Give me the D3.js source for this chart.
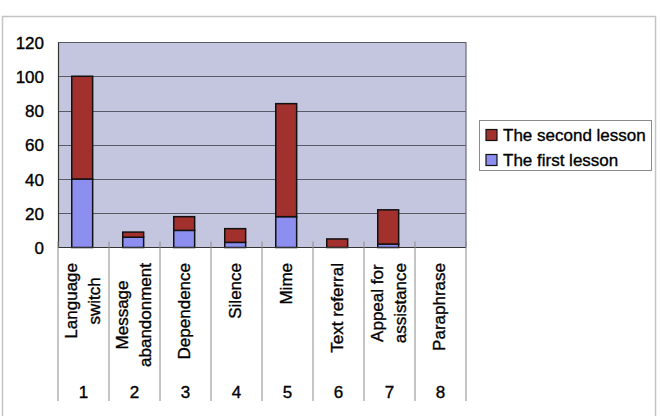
<!DOCTYPE html>
<html><head><meta charset="utf-8">
<script src="https://cdn.jsdelivr.net/npm/d3@7"></script>
<style>
html,body{margin:0;padding:0;background:#fff;}
svg{display:block;font-family:"Liberation Sans",Arial,sans-serif;}
.t{fill:#000;stroke:#000;stroke-width:0.35px;}
</style></head>
<body>
<svg id="chart" width="660" height="416"></svg>
<script>
const categories = ["1","2","3","4","5","6","7","8"];
const categoryNames = [["Language","switch"],["Message","abandonment"],["Dependence"],["Silence"],["Mime"],["Text referral"],["Appeal for","assistance"],["Paraphrase"]];
const firstLesson  = [40, 6, 10, 3, 18, 0, 2, 0];
const secondLesson = [60, 3, 8, 8, 66, 5, 20, 0];
const seriesNames = ["The second lesson","The first lesson"];
const yTicks = [0,20,40,60,80,100,120];

const svg = d3.select("#chart");
const L = 58, R = 466, T = 42, B = 247.5;
const colFirst = "#8c8ef0", colSecond = "#a2302c";

// outer frame
svg.append("rect").attr("x",2.5).attr("y",16.5).attr("width",653).attr("height",420)
  .attr("fill","#fff").attr("stroke","#c4c4c4").attr("stroke-width",1.5);

const x = d3.scaleBand().domain(categories).range([L,R]).padding(0);
const y = d3.scaleLinear().domain([0,120]).range([B,T]);

// plot background
svg.append("rect").attr("x",L).attr("y",T).attr("width",R-L).attr("height",B-T).attr("fill","#c4c6e0");

// gridlines
svg.append("g").selectAll("line").data(yTicks.filter(d=>d>0)).join("line")
  .attr("x1",L).attr("x2",R).attr("y1",d=>Math.round(y(d))+0.5).attr("y2",d=>Math.round(y(d))+0.5)
  .attr("stroke","#5a5a66").attr("stroke-width",1);
// right border
svg.append("line").attr("x1",R).attr("x2",R).attr("y1",T).attr("y2",B).attr("stroke","#6a6a74").attr("stroke-width",1.2);

// y axis
const yAxis = d3.axisLeft(y).tickValues(yTicks).tickSize(0).tickPadding(14);
const ga = svg.append("g").attr("transform",`translate(${L},0)`).call(yAxis);
ga.select(".domain").attr("stroke","#333").attr("stroke-width",1.2);
ga.selectAll("text").attr("class","t").attr("font-size",17).attr("font-family","'Liberation Sans',Arial,sans-serif").attr("dy","0.36em");

// bars
const bw = x.bandwidth()*0.41;
const off = (x.bandwidth()-bw)/2 - 1.3;
const stackData = categories.map((c,i)=>({c, first:firstLesson[i], second:secondLesson[i]}));
const stack = d3.stack().keys(["first","second"])(stackData);
const colors = {first:colFirst, second:colSecond};
stack.forEach(s=>{
  svg.append("g").selectAll("rect").data(s.filter(d=>d[1]-d[0]>0)).join("rect")
    .attr("x",d=>x(d.data.c)+off).attr("width",bw)
    .attr("y",d=>y(d[1])).attr("height",d=>y(d[0])-y(d[1]))
    .attr("fill",colors[s.key]).attr("stroke","#111").attr("stroke-width",1.5);
});

// bottom axis line
svg.append("line").attr("x1",L).attr("x2",R).attr("y1",B).attr("y2",B).attr("stroke","#333").attr("stroke-width",1.2);

// category separators
const bounds = categories.map(c=>x(c)).concat([R]);
svg.append("g").selectAll("line").data(bounds).join("line")
  .attr("x1",d=>d).attr("x2",d=>d).attr("y1",B-6).attr("y2",401)
  .attr("stroke","#8a8a8a").attr("stroke-width",1);

// category names (rotated)
const cg = svg.append("g");
categoryNames.forEach((lines,i)=>{
  const cx = x(categories[i]) + x.bandwidth()/2;
  const n = lines.length;
  const g = cg.append("g");
  const texts = lines.map((t,j)=>{
    const lx = n===1 ? cx-1.5 : cx - 12 + j*23;
    return g.append("text").text(t).attr("class","t").attr("font-size",17)
      .attr("dominant-baseline","central").attr("text-anchor","middle")
      .attr("transform",`translate(${lx},0) rotate(-90)`);
  });
  const lens = texts.map(t=>t.node().getComputedTextLength());
  const maxL = d3.max(lens);
  const centerY = 263 + maxL/2;
  texts.forEach((t,j)=>{
    const lx = n===1 ? cx-1.5 : cx - 12 + j*23;
    t.attr("transform",`translate(${lx},${centerY}) rotate(-90)`);
  });
});

// category numbers
svg.append("g").selectAll("text").data(categories).join("text")
  .attr("class","t")
  .attr("x",d=>x(d)+x.bandwidth()/2).attr("y",392).attr("dominant-baseline","central")
  .attr("text-anchor","middle").attr("font-size",17).text(d=>d);

// legend
const lg = svg.append("g");
lg.append("rect").attr("x",479.5).attr("y",120.5).attr("width",172).attr("height",50)
  .attr("fill","#fff").attr("stroke","#8a8a8a").attr("stroke-width",1);
const legendColors = [colSecond, colFirst];
seriesNames.forEach((name,i)=>{
  const cy = 135 + i*25;
  lg.append("rect").attr("x",486).attr("y",cy-5.5).attr("width",11).attr("height",11)
    .attr("fill",legendColors[i]).attr("stroke","#111").attr("stroke-width",1.2);
  lg.append("text").attr("class","t").attr("x",503).attr("y",cy).attr("dominant-baseline","central")
    .attr("font-size",17).text(name);
});
</script>
</body></html>
